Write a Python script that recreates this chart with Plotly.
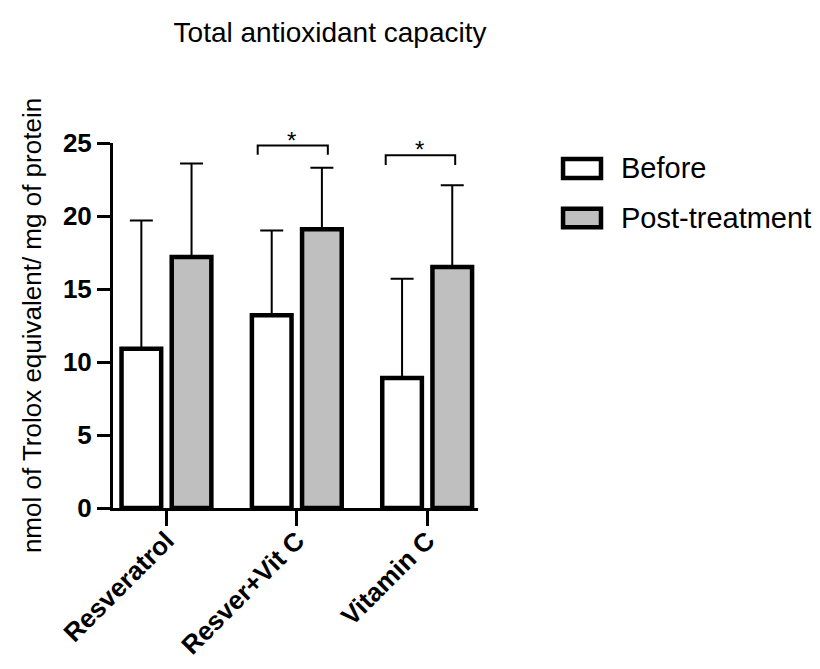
import plotly.graph_objects as go

# ---- data ----
categories = ["Resveratrol", "Resver+Vit C", "Vitamin C"]
series_names = ["Before", "Post-treatment"]
before_mean = [10.9, 13.2, 8.9]
post_mean = [17.2, 19.1, 16.5]
before_sd = [8.8, 5.8, 6.8]
post_sd = [6.4, 4.2, 5.6]
y_ticks = [0, 5, 10, 15, 20, 25]
Y_MAX = 25

FONT = "Liberation Sans, Arial, Helvetica, sans-serif"
BLACK = "#000000"
GREY = "#bfbfbf"

# the page body has an 8px default margin; size the figure to fit the window
W, H = 812, 661

fig = go.Figure()
for name, vals, sds, fill in [
    (series_names[0], before_mean, before_sd, "#ffffff"),
    (series_names[1], post_mean, post_sd, GREY),
]:
    fig.add_trace(go.Bar(
        x=categories, y=vals, name=name,
        marker=dict(color=fill, line=dict(color=BLACK, width=4.5)),
        error_y=dict(type="data", array=sds, arrayminus=[0] * len(sds),
                     symmetric=False, color=BLACK, thickness=2, width=11.5),
        showlegend=False,
    ))

# significance brackets (category index coordinates)
brackets = [
    dict(x0=0.70, x1=1.238, y=24.83, ylow=24.2, sx=0.962, sy=25.2),
    dict(x0=1.682, x1=2.215, y=24.16, ylow=23.5, sx=1.938, sy=24.55),
]
shapes = []
annotations = []
for b in brackets:
    shapes.append(dict(
        type="path", xref="x", yref="y",
        path=f"M {b['x0']},{b['ylow']} L {b['x0']},{b['y']} L {b['x1']},{b['y']} L {b['x1']},{b['ylow']}",
        line=dict(color=BLACK, width=2),
    ))
    annotations.append(dict(
        x=b["sx"], y=b["sy"] / Y_MAX, xref="x", yref="y domain", text="*", showarrow=False,
        font=dict(family=FONT, size=24, color=BLACK), yanchor="middle", xanchor="center",
    ))

# custom legend (paper coordinates)
legend_items = [
    (series_names[0], "#ffffff", 0.956, 0.904, 0.9316),
    (series_names[1], GREY, 0.8196, 0.769, 0.795),
]
for name, fill, ytop, ybot, ytext in legend_items:
    shapes.append(dict(
        type="rect", xref="paper", yref="paper",
        x0=1.233, x1=1.337, y0=ybot, y1=ytop,
        fillcolor=fill, line=dict(color=BLACK, width=4.5),
    ))
    annotations.append(dict(
        x=1.386, y=ytext, xref="paper", yref="paper", text=name, showarrow=False,
        xanchor="left", yanchor="middle",
        font=dict(family=FONT, size=29, color=BLACK),
    ))

fig.update_layout(
    width=W, height=H,
    paper_bgcolor="white", plot_bgcolor="white",
    margin=dict(l=105, r=342, t=135, b=160.5, pad=0, autoexpand=False),
    barmode="group", bargap=0.23, bargroupgap=0.21,
    title=dict(text="Total antioxidant capacity", x=0.3966, xanchor="center",
               y=0.9637, yanchor="middle", xref="container", yref="container",
               font=dict(family=FONT, size=28, color=BLACK)),
    xaxis=dict(
        range=[-0.41, 2.39], showline=True, linecolor=BLACK, linewidth=3,
        ticks="outside", ticklen=15, tickwidth=3, tickcolor=BLACK,
        tickangle=-45, tickfont=dict(family=FONT, size=26, color=BLACK, weight="bold"),
        ticklabelstandoff=-11,
        showgrid=False, zeroline=False, automargin=False,
    ),
    yaxis=dict(
        range=[0, Y_MAX], tickvals=y_ticks, showline=True, linecolor=BLACK, linewidth=3,
        ticks="outside", ticklen=13, tickwidth=3, tickcolor=BLACK,
        tickfont=dict(family=FONT, size=26, color=BLACK, weight="bold"),
        showgrid=False, zeroline=False, automargin=False,
        title=dict(text="nmol of Trolox equivalent/ mg of protein", standoff=14,
                   font=dict(family=FONT, size=26, color=BLACK)),
    ),
    shapes=shapes, annotations=annotations,
    showlegend=False,
)

fig.write_html("out.html")
